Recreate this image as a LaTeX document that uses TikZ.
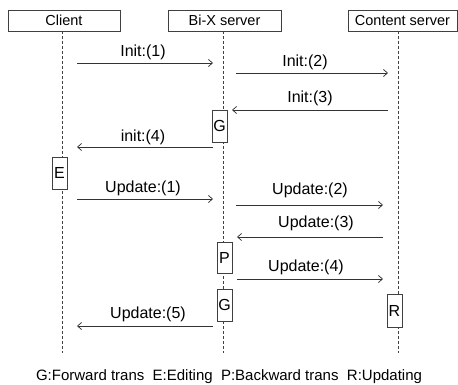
\documentclass[tikz,border=0pt]{standalone}
\usepackage{fontspec}
\setmainfont{Liberation Sans}
\usetikzlibrary{arrows.meta}
\begin{document}
\begin{tikzpicture}[x=1pt,y=-1pt,
  head/.style={draw=black!75,line width=0.6pt,minimum height=21pt,inner sep=0pt,font=\fontsize{14.5}{16}\selectfont},
  life/.style={draw=black!75,line width=0.6pt,dash pattern=on 3pt off 2pt},
  msg/.style={draw=black!80,line width=0.75pt,-{Straight Barb[length=4pt,width=7pt,line width=0.75pt]}},
  lbl/.style={inner sep=0pt,font=\fontsize{16}{18}\selectfont},
  act/.style={draw=black!75,fill=white,line width=0.6pt,minimum width=15pt,inner sep=0pt,font=\fontsize{16}{18}\selectfont},
  legend/.style={inner sep=0pt,font=\fontsize{15}{17}\selectfont}]
\useasboundingbox (0,0) rectangle (458,385);
% headers
\node[head,minimum width=112pt] (client) at (64,20.5) {Client};
\node[head,minimum width=113pt] (bix) at (224.5,20.5) {Bi-X server};
\node[head,minimum width=109pt] (content) at (402.5,20.5) {Content server};
% lifelines
\coordinate (ct) at (62,31); \coordinate (cb) at (62,353);
\coordinate (bt) at (223,31); \coordinate (bb) at (223,353);
\coordinate (st) at (398,31); \coordinate (sb) at (398,353);
\draw[life] (ct) -- (cb);
\draw[life] (bt) -- (bb);
\draw[life] (st) -- (sb);
% activation boxes
\node[act,minimum height=32pt] (g1) at (219.5,126) {G};
\node[act,minimum height=32pt] (e1) at (59.5,173) {E};
\node[act,minimum height=31pt] (p1) at (224.5,257.5) {P};
\node[act,minimum height=32pt] (g2) at (224.5,305) {G};
\node[act,minimum height=33pt] (r1) at (394.5,310.5) {R};
% arrow end points
\coordinate (a1s) at (77,63);   \coordinate (a1e) at (213,63);
\coordinate (a2s) at (236,73);  \coordinate (a2e) at (388,73);
\coordinate (a3s) at (388,110); \coordinate (a3e) at (232,110);
\coordinate (a4s) at (213,147); \coordinate (a4e) at (77,147);
\coordinate (u1s) at (77,199);  \coordinate (u1e) at (213,199);
\coordinate (u2s) at (236,205); \coordinate (u2e) at (383,205);
\coordinate (u3s) at (383,237); \coordinate (u3e) at (237,237);
\coordinate (u4s) at (237,279); \coordinate (u4e) at (383,279);
\coordinate (u5s) at (213,326); \coordinate (u5e) at (77,326);
\draw[msg] (a1s) -- (a1e);
\draw[msg] (a2s) -- (a2e);
\draw[msg] (a3s) -- (a3e);
\draw[msg] (a4s) -- (a4e);
\draw[msg] (u1s) -- (u1e);
\draw[msg] (u2s) -- (u2e);
\draw[msg] (u3s) -- (u3e);
\draw[msg] (u4s) -- (u4e);
\draw[msg] (u5s) -- (u5e);
% labels
\node[lbl] (l1) at (143,52) {Init:(1)};
\node[lbl] (l2) at (305,62) {Init:(2)};
\node[lbl] (l3) at (310,98) {Init:(3)};
\node[lbl] (l4) at (143,137) {init:(4)};
\node[lbl] (m1) at (143,188) {Update:(1)};
\node[lbl] (m2) at (310,190) {Update:(2)};
\node[lbl] (m3) at (316,223) {Update:(3)};
\node[lbl] (m4) at (306,267) {Update:(4)};
\node[lbl] (m5) at (148,314) {Update:(5)};
% legend
\node[legend] (leg) at (229,377) {G:Forward trans\ \ E:Editing\ \ P:Backward trans\ \ R:Updating};
\end{tikzpicture}
\end{document}
